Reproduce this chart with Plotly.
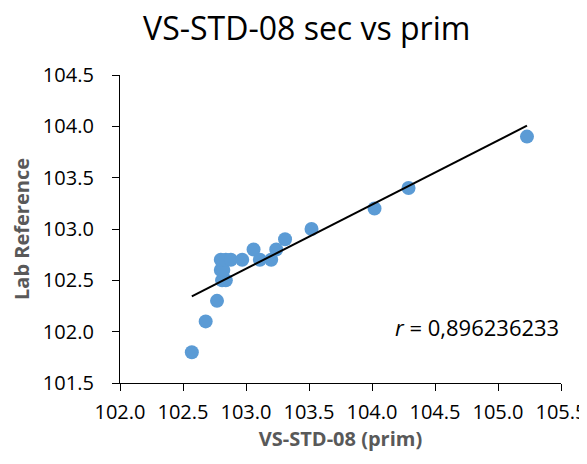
import numpy as np
import plotly.graph_objects as go

prim = [102.57, 102.68, 102.77, 102.81, 102.84, 102.80, 102.82, 102.80, 102.84, 102.88,
        102.97, 103.06, 103.11, 103.20, 103.24, 103.31, 103.52, 104.02, 104.29, 105.23]
lab = [101.8, 102.1, 102.3, 102.5, 102.5, 102.6, 102.6, 102.7, 102.7, 102.7,
       102.7, 102.8, 102.7, 102.7, 102.8, 102.9, 103.0, 103.2, 103.4, 103.9]
r_text = "<i>r</i> = 0,896236233"

slope, icpt = np.polyfit(prim, lab, 1)
tx = [min(prim), max(prim)]
ty = [slope * v + icpt for v in tx]

fig = go.Figure()
fig.add_trace(go.Scatter(x=prim, y=lab, mode="markers",
                         marker=dict(size=14, color="#5B9BD5"), showlegend=False))
fig.add_trace(go.Scatter(x=tx, y=ty, mode="lines",
                         line=dict(color="black", width=2), showlegend=False))

font = "Open Sans, Noto Sans, sans-serif"
fig.update_layout(
    width=579, height=456,
    margin=dict(l=112, r=26, t=67, b=81),
    paper_bgcolor="white", plot_bgcolor="white",
    font=dict(family=font, color="black", size=20),
    title=dict(text="VS-STD-08 sec vs prim", x=0.516, xanchor="center",
               yref="container", y=0.955, yanchor="middle",
               font=dict(size=32, color="black")),
    xaxis=dict(range=[102.0, 105.5], dtick=0.5, tick0=102.0, tickformat=".1f",
               showgrid=False, zeroline=False, showline=True, linecolor="black",
               linewidth=1.3, ticks="outside", ticklen=7, tickcolor="black",
               ticklabelstandoff=4, automargin=False,
               title=dict(text="<b>VS-STD-08 (prim)</b>", font=dict(size=20, color="#595959"),
                          standoff=6)),
    yaxis=dict(range=[101.5, 104.5], dtick=0.5, tick0=101.5, tickformat=".1f",
               showgrid=False, zeroline=False, showline=True, linecolor="black",
               linewidth=1.3, ticks="outside", ticklen=7, tickcolor="black",
               ticklabelstandoff=14, automargin=False,
               title=dict(text="<b>Lab Reference</b>", font=dict(size=20, color="#595959"),
                          standoff=18)),
    annotations=[dict(x=104.83, y=102.05, xref="x", yref="y", text=r_text,
                      showarrow=False, font=dict(size=22, color="black"))],
)
fig.write_html("out.html")
